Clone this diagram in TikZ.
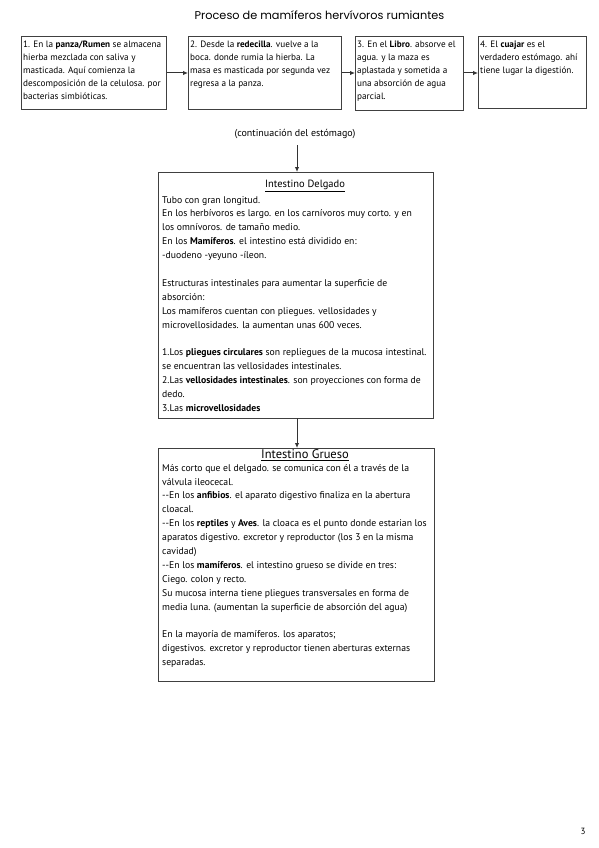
\documentclass[tikz,border=0pt]{standalone}
\usepackage{fontspec}
\setmainfont{PT Sans}
\newfontfamily\titlefont{Poppins}
\usetikzlibrary{arrows.meta}
\begin{document}
\begin{tikzpicture}[x=1pt,y=-1pt,
  box/.style={draw=black!75, line width=1pt, rectangle, inner sep=0pt, anchor=north west},
  txt/.style={anchor=north west, inner sep=0pt, align=left, font=\fontsize{9.2}{13}\selectfont},
  longtxt/.style={anchor=north west, inner sep=0pt, align=left, font=\fontsize{9.7}{13.9}\selectfont},
  arr/.style={draw=black!80, line width=1pt, -{Latex[length=5pt,width=4.5pt]}},
  plain/.style={inner sep=0pt}
]
\useasboundingbox[fill=white] (0,0) rectangle (599,848);

\node[plain, font=\titlefont\fontsize{11.3}{13}\selectfont] (title) at (319.5,15) {Proceso de mamíferos hervívoros rumiantes};

% stomach boxes
\node[box, minimum width=145pt, minimum height=73pt] (b1) at (21,36) {};
\node[box, minimum width=153pt, minimum height=73pt] (b2) at (188,36) {};
\node[box, minimum width=108pt, minimum height=74pt] (b3) at (355,36) {};
\node[box, minimum width=108pt, minimum height=72pt] (b4) at (478,36) {};

\node[txt] (t1) at (23,41) {1. En la \textbf{panza/Rumen} se almacena\\hierba mezclada con saliva y\\masticada. Aquí comienza la\\descomposición de la celulosa. por\\bacterias simbióticas.};
\node[txt] (t2) at (190,41) {2. Desde la \textbf{redecilla}. vuelve a la\\boca. donde rumia la hierba. La\\masa es masticada por segunda vez\\regresa a la panza.};
\node[txt] (t3) at (357,41) {3. En el \textbf{Libro}. absorve el\\agua. y la maza es\\aplastada y sometida a\\una absorción de agua\\parcial.};
\node[txt] (t4) at (480,41) {4. El \textbf{cuajar} es el\\verdadero estómago. ahí\\tiene lugar la digestión.};

\draw[arr] (b1.east) -- (b1.east -| b2.west);
\draw[arr] (b2.east) -- (b2.east -| b3.west);
\draw[arr] (b3.east |- b2.east) -- (b2.east -| b4.west);

% continuation label
\node[plain, font=\fontsize{10}{12}\selectfont] (lab) at (295,134) {(continuación del estómago)};
\coordinate (c1) at (297,145);

% small intestine
\node[box, minimum width=275pt, minimum height=246pt] (dl) at (158,172) {};
\draw[arr] (c1) -- (c1 |- dl.north);
\node[plain, font=\fontsize{10.5}{12}\selectfont] (dlt) at (305,186) {\underline{Intestino Delgado}};
\node[longtxt] (dltx) at (162,196) {Tubo con gran longitud.\\
En los herbívoros es largo. en los carnívoros muy corto. y en\\
los omnívoros. de tamaño medio.\\
En los \textbf{Mamíferos}. el intestino está dividido en:\\
-duodeno -yeyuno -íleon.\\[13.9pt]
Estructuras intestinales para aumentar la superficie de\\
absorción:\\
Los mamíferos cuentan con pliegues. vellosidades y\\
microvellosidades. la aumentan unas 600 veces.\\[13.9pt]
1.Los \textbf{pliegues circulares} son repliegues de la mucosa intestinal.\\
se encuentran las vellosidades intestinales.\\
2.Las \textbf{vellosidades intestinales}. son proyecciones con forma de\\
dedo.\\
3.Las \textbf{microvellosidades}};

% large intestine
\node[box, minimum width=276pt, minimum height=233pt] (gr) at (158,448) {};
\coordinate (c2) at (297,418);
\draw[arr] (c2) -- (c2 |- gr.north);
\node[plain, font=\fontsize{12.5}{14}\selectfont] (grt) at (305,455) {\underline{Intestino Grueso}};
\node[longtxt] (grtx) at (162,464) {Más corto que el delgado. se comunica con él a través de la\\
válvula ileocecal.\\
-{}-En los \textbf{anfibios}. el aparato digestivo finaliza en la abertura\\
cloacal.\\
-{}-En los \textbf{reptiles} y \textbf{Aves}. la cloaca es el punto donde estarian los\\
aparatos digestivo. excretor y reproductor (los 3 en la misma\\
cavidad)\\
-{}-En los \textbf{mamíferos}. el intestino grueso se divide en tres:\\
Ciego. colon y recto.\\
Su mucosa interna tiene pliegues transversales en forma de\\
media luna. (aumentan la superficie de absorción del agua)\\[13.9pt]
En la mayoría de mamíferos. los aparatos;\\
digestivos. excretor y reproductor tienen aberturas externas\\
separadas.};

\node[plain, font=\fontsize{9}{11}\selectfont] (pg) at (583,831) {3};
\end{tikzpicture}
\end{document}
